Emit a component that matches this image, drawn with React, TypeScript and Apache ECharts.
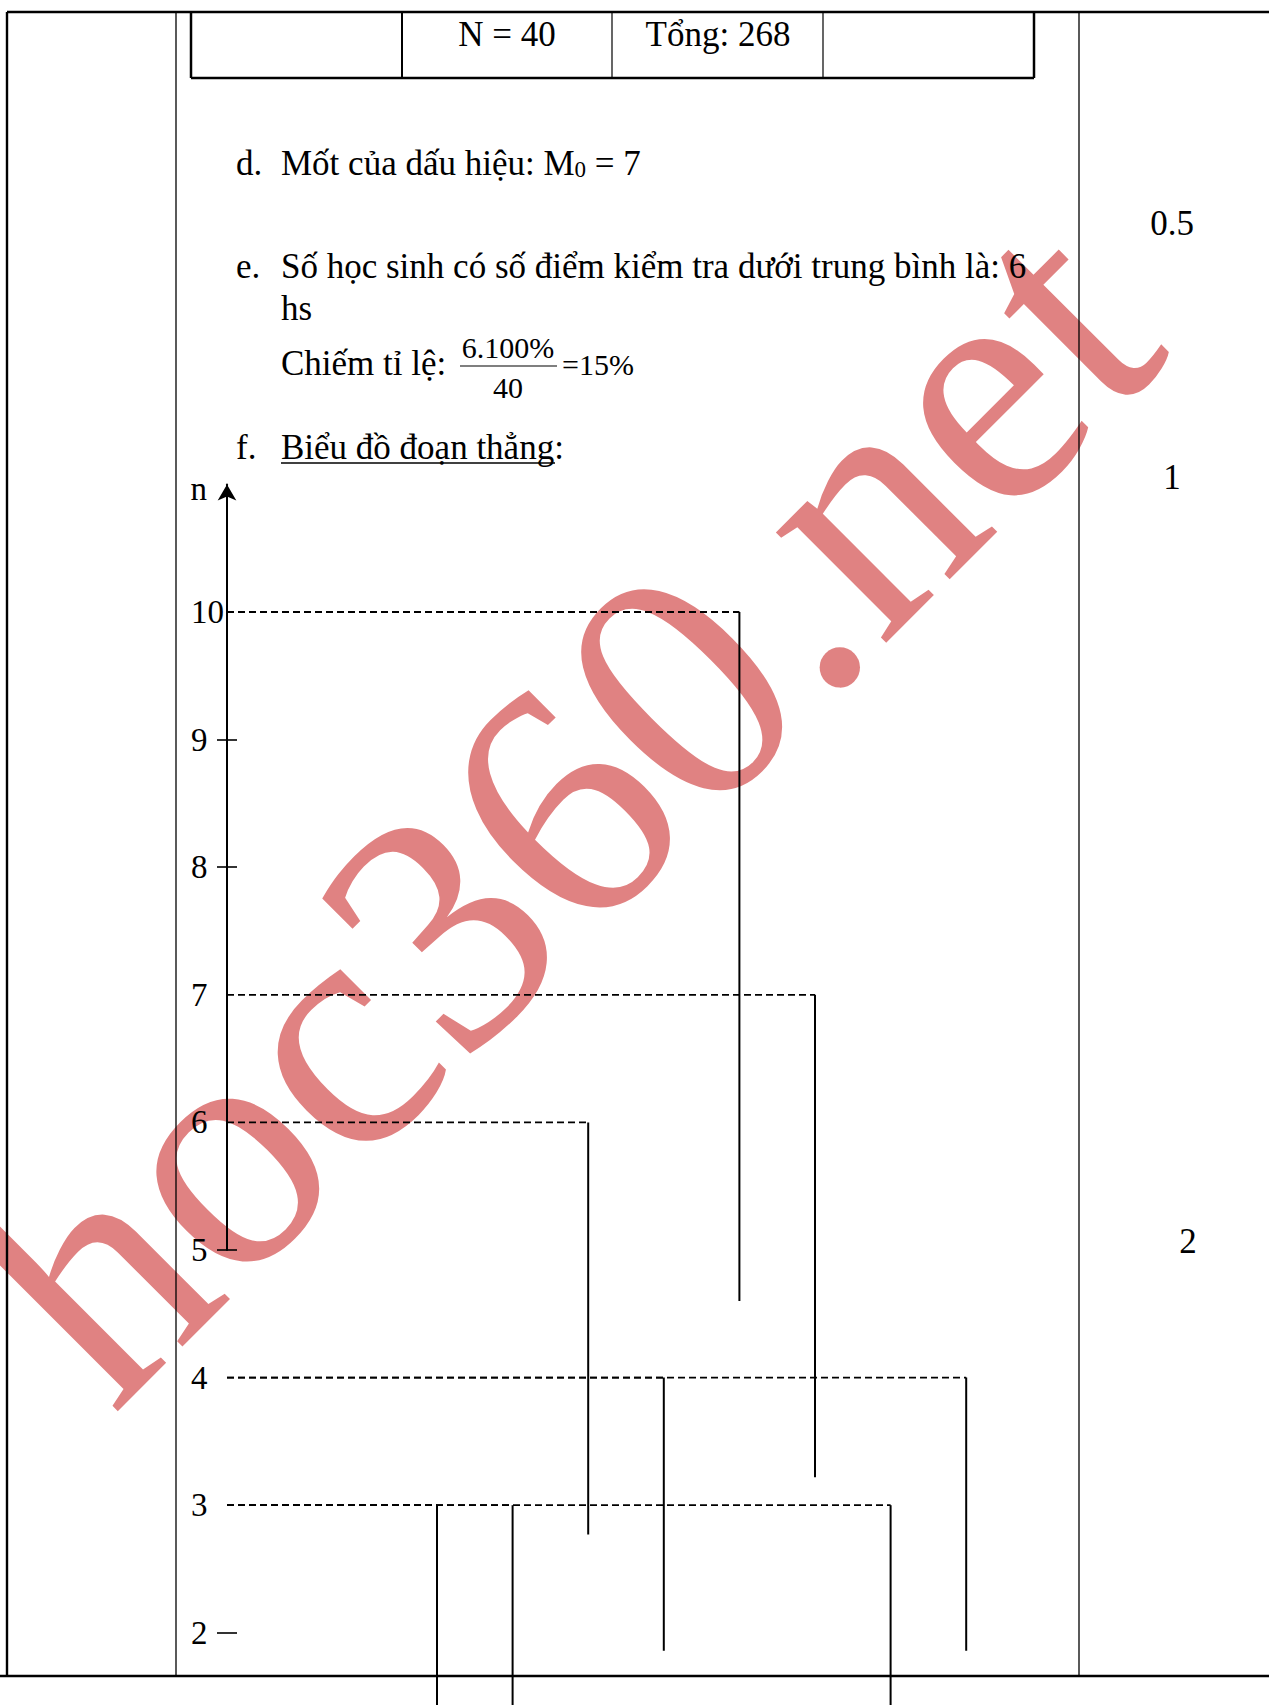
import React, { useEffect, useRef } from "react";
import * as echarts from "echarts";

// ---- data ----
const SCORES = [3, 4, 5, 6, 7, 8, 9, 10];          // x (điểm)
const FREQ = [3, 3, 6, 4, 10, 7, 3, 4];            // n (tần số)
const SEG_END = [1.0, 1.0, 2.77, 1.86, 4.6, 3.22, 1.0, 1.86]; // where each drawn segment stops (as in picture)
const Y_LABELS = [2, 3, 4, 5, 6, 7, 8, 9, 10];
const Y_MARKS = [2, 5, 8, 9];

// ---- layout ----
const W = 1269;
const H = 1705;
const FONT = '"Liberation Serif", "Times New Roman", serif';
const PX_N = 127.6;
const Y10 = 612;
const GRID_TOP = Y10 - 2 * PX_N; // value 12
const PX_X = 75.6;
const X0 = 437 - 3 * PX_X;       // value 0
const AXIS_PX = 227;
const AXIS_X_VAL = (AXIS_PX - X0) / PX_X;

function txt(text: string, x: number, y: number, size = 35, align = "left", extra: any = {}) {
  return {
    type: "text",
    z: 10,
    style: {
      text,
      x,
      y,
      fill: "#000",
      fontSize: size,
      fontFamily: FONT,
      align,
      textAlign: align,
      verticalAlign: "middle",
      textVerticalAlign: "middle",
      ...extra,
    },
  };
}

function ln(x1: number, y1: number, x2: number, y2: number, w = 1.3) {
  return {
    type: "line",
    z: 10,
    shape: { x1, y1, x2, y2 },
    style: { stroke: "#000", lineWidth: w },
  };
}

export default function App() {
  const ref = useRef<HTMLDivElement>(null);
  useEffect(() => {
    if (!ref.current) return;
    const chart = echarts.init(ref.current, null, { renderer: "svg" });

    const data = SCORES.map((s, i) => [s, FREQ[i], SEG_END[i]]);

    const graphics: any[] = [
      // watermark
      {
        type: "text",
        z: -100,
        x: 32,
        y: 1335,
        rotation: Math.PI / 4,
        style: {
          text: "hoc360.net",
          x: 0,
          y: 0,
          fill: "#E08282",
          fontSize: 340,
          fontFamily: FONT,
          align: "left",
          textAlign: "left",
          verticalAlign: "middle",
          textVerticalAlign: "middle",
        },
      },
      // page frame
      ln(7, 12, W, 12, 2.7),
      ln(7, 12, 7, 1676, 2.4),
      ln(176, 12, 176, 1676, 1.3),
      ln(1079, 12, 1079, 1676, 1.3),
      ln(0, 1676, W, 1676, 2.7),
      // table
      ln(191, 12, 191, 78, 2.5),
      ln(1034, 12, 1034, 78, 2.5),
      ln(191, 78, 1034, 78, 2.5),
      ln(402, 12, 402, 78, 2),
      ln(612, 12, 612, 78, 1.2),
      ln(823, 12, 823, 78, 1.2),
      txt("N = 40", 507, 34, 35, "center"),
      txt("Tổng: 268", 718, 34, 35, "center"),
      // text lines
      txt("d.", 236, 163),
      {
        type: "text",
        z: 10,
        style: {
          text: "Mốt của dấu hiệu: M{s|0} = 7",
          x: 281,
          y: 163,
          fill: "#000",
          fontSize: 35,
          fontFamily: FONT,
          align: "left",
          textAlign: "left",
          verticalAlign: "middle",
          textVerticalAlign: "middle",
          rich: {
            s: { fontSize: 23, fontFamily: FONT, fill: "#000", verticalAlign: "bottom" },
          },
        },
      },
      txt("0.5", 1172, 223, 35, "center"),
      txt("e.", 236, 266),
      txt("Số học sinh có số điểm kiểm tra dưới trung bình là: 6", 281, 266),
      txt("hs", 281, 308),
      txt("Chiếm tỉ lệ:", 281, 363),
      txt("6.100%", 508, 347, 30, "center"),
      ln(460, 366, 557, 366, 1.2),
      txt("40", 508, 387, 30, "center"),
      txt("=15%", 562, 364, 30),
      txt("f.", 236, 447),
      txt("Biểu đồ đoạn thẳng:", 281, 447),
      ln(281, 463, 555, 463, 1.5),
      txt("1", 1172, 477, 35, "center"),
      txt("2", 1188, 1241, 35, "center"),
    ];

    const option: any = {
      animation: false,
      backgroundColor: "#fff",
      graphic: { elements: graphics },
      grid: [
        // data grid: n from 1.5 (page bottom) to 12
        { left: X0, top: GRID_TOP, width: 14 * PX_X, height: 10.5 * PX_N, containLabel: false },
        // label grid: n from 2 to 12
        { left: AXIS_PX, top: GRID_TOP, width: 50, height: 10 * PX_N, containLabel: false },
        // arrow axis: n from 5 to 11
        { left: AXIS_PX, top: Y10 - PX_N, width: 50, height: 6 * PX_N, containLabel: false },
      ],
      xAxis: [
        { gridIndex: 0, type: "value", min: 0, max: 14, show: false },
        { gridIndex: 1, type: "value", min: 0, max: 1, show: false },
        { gridIndex: 2, type: "value", min: 0, max: 1, show: false },
      ],
      yAxis: [
        { gridIndex: 0, type: "value", min: 1.5, max: 12, show: false },
        {
          gridIndex: 1,
          type: "value",
          min: 2,
          max: 12,
          interval: 1,
          axisLine: { show: false },
          splitLine: { show: false },
          axisTick: {
            show: true,
            customValues: Y_MARKS,
            length: 10,
            inside: false,
            lineStyle: { color: "#000", width: 1.6 },
          },
          axisLabel: {
            show: true,
            customValues: Y_LABELS,
            align: "left",
            margin: 36,
            color: "#000",
            fontSize: 33,
            fontFamily: FONT,
          },
        },
        {
          gridIndex: 1,
          type: "value",
          min: 2,
          max: 12,
          interval: 1,
          position: "left",
          offset: 0,
          axisLine: { show: false },
          splitLine: { show: false },
          axisLabel: { show: false },
          axisTick: {
            show: true,
            customValues: Y_MARKS,
            length: 10,
            inside: true,
            lineStyle: { color: "#000", width: 1.6 },
          },
        },
        {
          gridIndex: 2,
          type: "value",
          min: 5,
          max: 11,
          interval: 1,
          name: "n",
          nameLocation: "end",
          nameGap: -5,
          nameTextStyle: {
            color: "#000",
            fontSize: 33,
            fontFamily: FONT,
            align: "right",
            verticalAlign: "middle",
            padding: [0, 20, 0, 0],
          },
          axisLine: {
            show: true,
            symbol: ["none", "arrow"],
            symbolSize: [14, 16],
            lineStyle: { color: "#000", width: 2 },
          },
          axisTick: { show: false },
          axisLabel: { show: false },
          splitLine: { show: false },
        },
      ],
      series: [
        {
          type: "custom",
          xAxisIndex: 0,
          yAxisIndex: 0,
          clip: false,
          data,
          renderItem: (params: any, api: any) => {
            const x = api.value(0);
            const top = api.value(1);
            const bottom = api.value(2);
            const p1 = api.coord([x, top]);
            const p2 = api.coord([x, bottom]);
            const p0 = api.coord([AXIS_X_VAL, top]);
            return {
              type: "group",
              children: [
                {
                  type: "line",
                  shape: { x1: p0[0], y1: p0[1], x2: p1[0], y2: p1[1] },
                  style: { stroke: "#000", lineWidth: 1.8, lineDash: [7, 4] },
                },
                {
                  type: "line",
                  shape: { x1: p1[0], y1: p1[1], x2: p2[0], y2: p2[1] },
                  style: { stroke: "#000", lineWidth: 2 },
                },
              ],
            };
          },
        },
      ],
    };

    chart.setOption(option);
    return () => chart.dispose();
  }, []);

  return (
    <div
      ref={ref}
      style={{ position: "fixed", left: 0, top: 0, width: W, height: H, background: "#fff" }}
    />
  );
}
